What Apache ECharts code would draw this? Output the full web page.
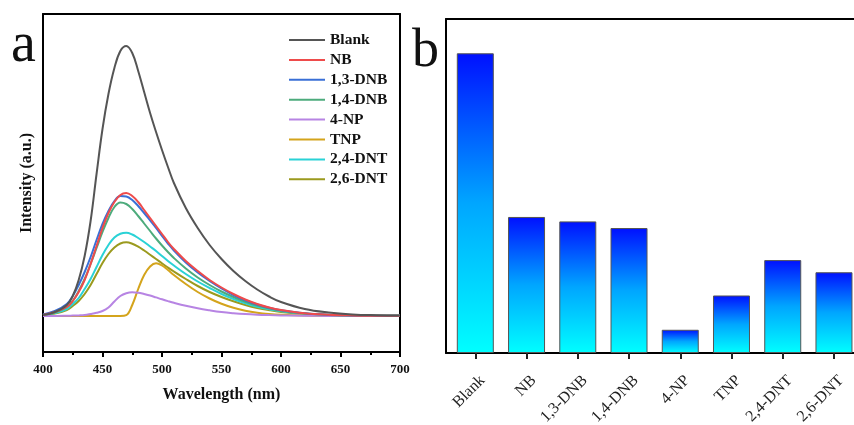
<!DOCTYPE html>
<html>
<head>
<meta charset="utf-8">
<script src="https://cdn.jsdelivr.net/npm/echarts@6/dist/echarts.min.js"></script>
<style>
html,body{margin:0;padding:0;background:#fff;}
#c{width:854px;height:425px;}
</style>
</head>
<body>
<div id="c"></div>
<script>
// ---- Panel a: emission spectra (intensity, a.u.) ----
var wavelengths = [400,410,420,425,430,435,440,445,450,455,460,465,470,475,480,485,490,495,500,505,510,520,530,540,550,560,570,580,590,600,620,640,660,680,700];
var blank   = [1,4,11,20,36,60,95,142,187,222,248,265,270,263,245,224,203,184,166,149,133,108,88,71,57,45,35,26.5,19.5,14,7,3.5,1.6,0.8,0.4];
var nb      = [1,4,9,15,24,36,52,70,88,103,114,121,123,120,114,106,98,90,82,74,67,55,45,36,28.5,22,16.5,12,8.5,6,2.8,1.3,0.6,0.3,0.2];
var dnb13   = [1.5,5,12,20,31,44,59,76,92,105,115,120,119.5,116,110,103,95.5,88,80,72.5,65.5,53.5,43.5,35,27.5,21,15.8,11.5,8.2,5.8,2.7,1.2,0.6,0.3,0.2];
var dnb14   = [1,3.5,9,15,25,37,52,68,84,98,109,113.5,112,107,100,92.5,85,77.5,70.5,64,58,47.5,38.5,31,24.5,19,14.3,10.5,7.5,5.3,2.5,1.1,0.5,0.3,0.2];
var np4     = [0,0,0.2,0.4,0.6,1,2,3.2,5,8.5,14.5,20,22.8,23.7,23.3,22,20.5,18.6,16.7,14.9,13.2,10.2,7.7,5.7,4,2.8,1.9,1.3,0.9,0.6,0.25,0.1,0,0,0];
var tnp     = [0,0,0,0,0,0,0,0,0,0,0,0,0.8,11,27,41,49.5,52.7,50.5,46,41,32,24,17.5,12.2,8.2,5.3,3.3,2,1.2,0.4,0.1,0,0,0];
var dnt24   = [1,3,7,12,18,27,37,49,61,71,78.5,82.3,83.3,81.5,78,74,69.5,65,60,55,50.5,42,34.5,28,22,17,12.8,9.3,6.7,4.7,2.2,1,0.5,0.3,0.2];
var dnt26   = [1,2.5,6,10,15,22,31,42,53,62,68.5,72.5,73.7,72.3,69.3,65.5,61.3,57,52.7,48.5,44.5,37,30,24,19,14.7,11,8,5.8,4.1,2,1,0.5,0.3,0.2];

var seriesNames  = ['Blank','NB','1,3-DNB','1,4-DNB','4-NP','TNP','2,4-DNT','2,6-DNT'];
var seriesValues = [blank, nb, dnb13, dnb14, np4, tnp, dnt24, dnt26];
var seriesColors = ['#555555','#ee4b4b','#3a6fd6','#4dab7c','#b784e3','#d4a41c','#2ad2d6','#9b9a1e'];

// ---- Panel b: peak intensity per analyte ----
var barCategories = ['Blank','NB','1,3-DNB','1,4-DNB','4-NP','TNP','2,4-DNT','2,6-DNT'];
var barValues     = [271,123,119,113,21,52,84,73];

var chart = echarts.init(document.getElementById('c'), null, {renderer:'canvas'});

var lineSeries = seriesNames.map(function(name, k){
  return {
    name: name, type: 'line', xAxisIndex: 0, yAxisIndex: 0,
    data: wavelengths.map(function(w,i){ return [w, seriesValues[k][i]]; }),
    smooth: 0.4, symbol: 'none', showSymbol: false,
    lineStyle: {width: 2, color: seriesColors[k]},
    itemStyle: {color: seriesColors[k]},
    z: 10 - k
  };
});

var labelShift = 0.14;
var barIdx = barCategories.map(function(c,i){ return i; });

var serif = '"Liberation Serif","Times New Roman",serif';

chart.setOption({
  animation: false,
  backgroundColor: '#ffffff',
  grid: [
    {left: 43, top: 14, width: 357, height: 338, outerBoundsMode: 'none', containLabel: false},
    {left: 446, top: 19, width: 418, height: 334, outerBoundsMode: 'none', containLabel: false}
  ],
  legend: {
    data: seriesNames,
    orient: 'vertical',
    left: 289, top: 32, padding: 0,
    itemWidth: 36, itemHeight: 14, itemGap: 3.9,
    icon: 'path://M0,0 L36,0 L36,2 L0,2 Z',
    textStyle: {fontFamily: serif, fontWeight: 'bold', fontSize: 15.5, color: '#111'}
  },
  xAxis: [
    {
      type: 'value', gridIndex: 0, min: 400, max: 700, interval: 50,
      name: 'Wavelength (nm)', nameLocation: 'middle', nameGap: 35,
      nameTextStyle: {fontFamily: serif, fontWeight: 'bold', fontSize: 16, color: '#111'},
      axisLine: {show: true, onZero: false, lineStyle: {color: '#000', width: 2}},
      axisTick: {show: true, inside: false, length: 5, lineStyle: {color: '#000', width: 2}},
      minorTick: {show: true, splitNumber: 2, length: 3, lineStyle: {color: '#000', width: 2}},
      axisLabel: {fontFamily: serif, fontWeight: 'bold', fontSize: 13, color: '#111', margin: 11},
      splitLine: {show: false}
    },
    {
      type: 'value', gridIndex: 0, position: 'top', min: 400, max: 700,
      axisLine: {show: true, onZero: false, lineStyle: {color: '#000', width: 2}},
      axisTick: {show: false}, axisLabel: {show: false}, splitLine: {show: false}
    },
    {
      type: 'value', gridIndex: 1, min: -0.572, max: 7.586,
      axisLine: {show: true, onZero: false, lineStyle: {color: '#000', width: 2}},
      axisTick: {show: true, inside: false, length: 6, customValues: barIdx, lineStyle: {color: '#222', width: 2}},
      axisLabel: {
        show: true, rotate: 45, margin: 25, fontFamily: serif, fontSize: 16, color: '#222',
        customValues: barIdx.map(function(i){ return i + labelShift; }),
        formatter: function(v){ return barCategories[Math.round(v - labelShift)] || ''; }
      },
      splitLine: {show: false}
    },
    {
      type: 'value', gridIndex: 1, position: 'top', min: -0.572, max: 7.586,
      axisLine: {show: true, onZero: false, lineStyle: {color: '#000', width: 2}},
      axisTick: {show: false}, axisLabel: {show: false}, splitLine: {show: false}
    }
  ],
  yAxis: [
    {
      type: 'value', gridIndex: 0, min: -36, max: 302,
      name: 'Intensity (a.u.)', nameLocation: 'middle', nameGap: 8,
      nameTextStyle: {fontFamily: serif, fontWeight: 'bold', fontSize: 16, color: '#111'},
      axisLine: {show: true, onZero: false, lineStyle: {color: '#000', width: 2}},
      axisTick: {show: false}, axisLabel: {show: false}, splitLine: {show: false}
    },
    {
      type: 'value', gridIndex: 0, position: 'right', min: -36, max: 302,
      axisLine: {show: true, onZero: false, lineStyle: {color: '#000', width: 2}},
      axisTick: {show: false}, axisLabel: {show: false}, splitLine: {show: false}
    },
    {
      type: 'value', gridIndex: 1, min: 0, max: 302,
      axisLine: {show: true, onZero: false, lineStyle: {color: '#000', width: 2}},
      axisTick: {show: false}, axisLabel: {show: false}, splitLine: {show: false}
    }
  ],
  graphic: [
    {type: 'text', left: 11, top: 18, style: {text: 'a', font: '56px ' + serif, fill: '#111'}},
    {type: 'text', left: 412, top: 25, style: {text: 'b', font: '54px ' + serif, fill: '#111'}}
  ],
  series: lineSeries.concat([
    {
      name: 'peak', type: 'bar', xAxisIndex: 2, yAxisIndex: 2,
      data: barValues.map(function(v,i){ return [i, v]; }),
      barWidth: 37,
      itemStyle: {
        borderColor: '#555', borderWidth: 1,
        color: new echarts.graphic.LinearGradient(0,0,0,1,[
          {offset: 0, color: '#0010ff'},
          {offset: 0.5, color: '#00a6ff'},
          {offset: 1, color: '#00ffff'}
        ])
      }
    }
  ])
});
</script>
</body>
</html>
